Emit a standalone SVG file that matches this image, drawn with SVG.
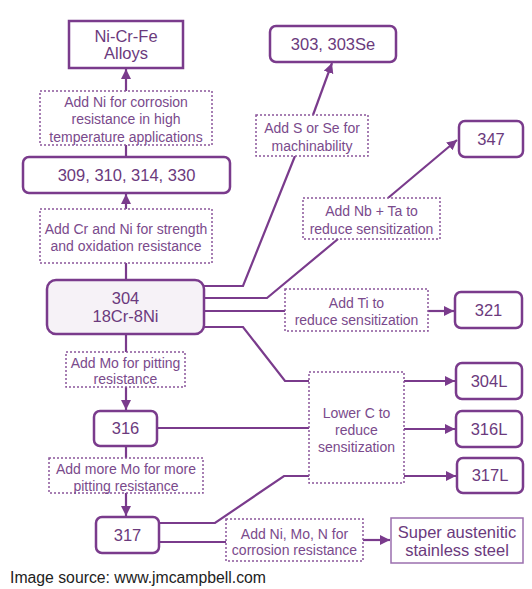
<svg xmlns="http://www.w3.org/2000/svg" width="532" height="589" viewBox="0 0 532 589">
<style>
.bg{fill:#ffffff}
.node rect{fill:#ffffff;stroke:#7a3b8c;stroke-width:2.5}
.node text{font-family:"Liberation Sans",Arial,sans-serif;font-size:16.5px;fill:#6b3a7d;text-anchor:middle}
.lbl rect{fill:#ffffff;stroke:#8a559b;stroke-width:1.5;stroke-dasharray:2 2}
.lbl text{font-family:"Liberation Sans",Arial,sans-serif;font-size:14px;fill:#7a4a8c;text-anchor:middle}
.conn path{fill:none;stroke:#7a3b8c;stroke-width:2.2}
.src{font-family:"Liberation Sans",Arial,sans-serif;font-size:16px;fill:#222}
</style>
<defs>
<marker id="ah" markerUnits="userSpaceOnUse" markerWidth="11" markerHeight="11" refX="10" refY="5" orient="auto">
<path d="M0,0 L10,5 L0,10 z" fill="#7a3b8c"/>
</marker>
</defs>
<rect class="bg" x="0" y="0" width="532" height="589"/>
<g id="connectors" class="conn">
<path d="M126,91 V69" marker-end="url(#ah)"/>
<path d="M126,145 V157"/>
<path d="M126,209 V194" marker-end="url(#ah)"/>
<path d="M126,263 V280"/>
<path d="M126,334 V352"/>
<path d="M126,387 V410" marker-end="url(#ah)"/>
<path d="M126,446 V458"/>
<path d="M126,493 V516" marker-end="url(#ah)"/>
<path d="M204,286 H243 L295,156"/>
<path d="M313,115 L332,63" marker-end="url(#ah)"/>
<path d="M204,298 H267 L338,239"/>
<path d="M388,198 L457,140" marker-end="url(#ah)"/>
<path d="M204,311 H285"/>
<path d="M428,311 H454" marker-end="url(#ah)"/>
<path d="M204,327 H243 L285,381 H309"/>
<path d="M404,381 H455" marker-end="url(#ah)"/>
<path d="M157,428 H309"/>
<path d="M404,429 H455" marker-end="url(#ah)"/>
<path d="M159,523 H215 L284,476 H309"/>
<path d="M404,476 H456" marker-end="url(#ah)"/>
<path d="M159,542 H226"/>
<path d="M363,540 H390" marker-end="url(#ah)"/>
</g>
<g id="nicrfe" class="node"><rect x="69" y="21" width="114" height="47"/><text x="126" y="42">Ni-Cr-Fe</text><text x="126" y="59">Alloys</text></g>
<g id="n303" class="node"><rect x="270" y="26" width="126" height="36" rx="6"/><text x="333" y="50">303, 303Se</text></g>
<g id="n347" class="node"><rect x="459" y="121" width="64" height="36" rx="6"/><text x="491" y="145">347</text></g>
<g id="n309" class="node"><rect x="23" y="157" width="207" height="36" rx="6"/><text x="126.5" y="181">309, 310, 314, 330</text></g>
<g id="n304" class="node"><rect x="47" y="280" width="157" height="54" rx="9" style="fill:#f6f2f7"/><text x="125.5" y="304">304</text><text x="125.5" y="322">18Cr-8Ni</text></g>
<g id="n321" class="node"><rect x="455" y="292" width="67" height="36" rx="6"/><text x="488.5" y="316">321</text></g>
<g id="n304L" class="node"><rect x="456" y="363" width="66" height="36" rx="6"/><text x="489" y="387">304L</text></g>
<g id="n316L" class="node"><rect x="456" y="411" width="66" height="36" rx="6"/><text x="489" y="435">316L</text></g>
<g id="n316" class="node"><rect x="94" y="411" width="63" height="35" rx="6"/><text x="125.5" y="434">316</text></g>
<g id="n317L" class="node"><rect x="457" y="458" width="66" height="35" rx="6"/><text x="490" y="481">317L</text></g>
<g id="n317" class="node"><rect x="96" y="517" width="63" height="36" rx="6"/><text x="127.5" y="541">317</text></g>
<g id="super" class="node"><rect x="391" y="518" width="132" height="45" style="stroke:#9b6fae;stroke-width:1.5"/><text x="457" y="538">Super austenitic</text><text x="457" y="556">stainless steel</text></g>
<g id="lbl-ni-high" class="lbl"><rect x="40" y="91" width="172" height="54"/><text x="126" y="107">Add Ni for corrosion</text><text x="126" y="124">resistance in high</text><text x="126" y="142">temperature applications</text></g>
<g id="lbl-crni" class="lbl"><rect x="40" y="209" width="172" height="54"/><text x="126" y="234">Add Cr and Ni for strength</text><text x="126" y="251">and oxidation resistance</text></g>
<g id="lbl-mo" class="lbl"><rect x="66" y="352" width="119" height="35"/><text x="125.5" y="368">Add Mo for pitting</text><text x="125.5" y="384">resistance</text></g>
<g id="lbl-moremo" class="lbl"><rect x="49" y="458" width="154" height="35"/><text x="126" y="474">Add more Mo for more</text><text x="126" y="491">pitting resistance</text></g>
<g id="lbl-sse" class="lbl"><rect x="256" y="115" width="112" height="41"/><text x="312" y="133">Add S or Se for</text><text x="312" y="151">machinability</text></g>
<g id="lbl-nbta" class="lbl"><rect x="303" y="198" width="137" height="41"/><text x="371.5" y="216">Add Nb + Ta to</text><text x="371.5" y="234">reduce sensitization</text></g>
<g id="lbl-ti" class="lbl"><rect x="285" y="289" width="143" height="42"/><text x="356.5" y="308">Add Ti to</text><text x="356.5" y="325">reduce sensitization</text></g>
<g id="lbl-lowc" class="lbl"><rect x="309" y="372" width="95" height="111"/><text x="356.5" y="418">Lower C to</text><text x="356.5" y="435">reduce</text><text x="356.5" y="452">sensitization</text></g>
<g id="lbl-nimon" class="lbl"><rect x="226" y="519" width="137" height="42"/><text x="294.5" y="539">Add Ni, Mo, N for</text><text x="294.5" y="555">corrosion resistance</text></g>
<text class="src" x="10" y="583" textLength="256" lengthAdjust="spacingAndGlyphs">Image source: www.jmcampbell.com</text>
</svg>
